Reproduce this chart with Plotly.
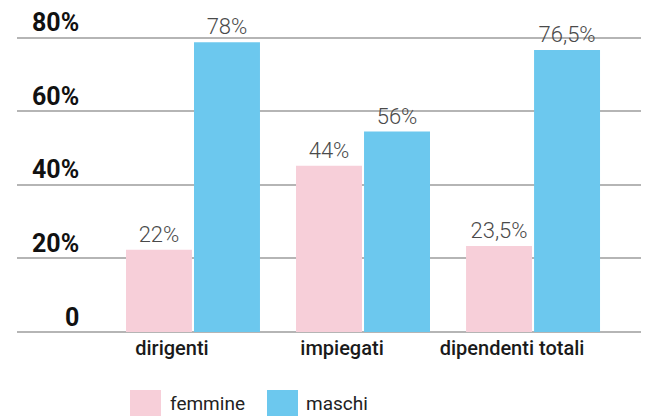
import plotly.graph_objects as go

# data (bar heights as drawn, labels as printed)
categories = ["dirigenti", "impiegati", "dipendenti totali"]
femmine = [22.4, 45.2, 23.4]
maschi = [78.8, 54.5, 76.7]
femmine_labels = ["22%", "44%", "23,5%"]
maschi_labels = ["78%", "56%", "76,5%"]
y_ticks = [0, 20, 40, 60, 80]
y_tick_labels = ["0", "20%", "40%", "60%", "80%"]
series_names = ["femmine", "maschi"]

PINK = "#F7CFD9"
BLUE = "#6CC8EE"
GRID = "#b5b5b5"
FONT = "Roboto"

# the page body adds an 8px offset, so everything is laid out 8px up/left
OFF = 8
W, H = 649, 416
ML, MR, MT, MB = 17 - OFF, OFF, 36 - OFF, 84 + OFF
PW, PH = W - ML - MR, H - MT - MB


def px_x(x):
    # x in window pixels -> paper fraction
    return (x - OFF - ML) / PW


def px_y(y):
    # y in window pixels -> paper fraction
    return (H - MB - (y - OFF)) / PH


fig = go.Figure()
for name, vals, labels, color in zip(series_names, [femmine, maschi],
                                     [femmine_labels, maschi_labels], [PINK, BLUE]):
    fig.add_trace(go.Bar(
        x=categories, y=vals, name=name,
        marker=dict(color=color, line=dict(width=0)),
        text=labels,
        textposition="outside",
        constraintext="none",
        cliponaxis=False,
        textfont=dict(family=FONT, size=22, color="#4a4a4a", weight=300),
        showlegend=False,
    ))

fig.update_layout(
    width=W, height=H,
    margin=dict(l=ML, r=MR, t=MT, b=MB),
    plot_bgcolor="white", paper_bgcolor="white",
    barmode="group", bargap=0.2, bargroupgap=0.03,
    font=dict(family=FONT),
)

fig.update_xaxes(
    range=[-1.035, 2.682],
    showgrid=False, zeroline=False, showline=False, ticks="",
    tickfont=dict(family=FONT, size=20, color="#1a1a1a", weight=500),
    ticklabelshift=-21, ticklabelstandoff=2,
)
fig.update_yaxes(
    range=[0, 80.5], tickvals=y_ticks, showticklabels=False,
    showgrid=True, gridcolor=GRID, gridwidth=1.5,
    zeroline=True, zerolinecolor=GRID, zerolinewidth=2,
    showline=False, ticks="",
)

# y tick labels sit above their gridlines, right aligned
for v, lab in zip(y_ticks, y_tick_labels):
    fig.add_annotation(
        x=px_x(80), xref="paper", y=v, yref="y",
        text=lab, showarrow=False, xanchor="right", yanchor="middle",
        yshift=15, borderpad=0,
        font=dict(family=FONT, size=25, color="#111111", weight="bold"),
    )

# legend drawn by hand to get the big square swatches
legend_items = [(130, 161, 168, series_names[0], PINK), (267, 298, 304, series_names[1], BLUE)]
for x0, x1, tx, name, color in legend_items:
    fig.add_shape(
        type="rect", xref="paper", yref="paper",
        x0=px_x(x0), x1=px_x(x1), y0=px_y(390), y1=px_y(422),
        fillcolor=color, line=dict(width=0),
    )
    fig.add_annotation(
        x=px_x(tx), xref="paper", y=px_y(403), yref="paper",
        text=name, showarrow=False, xanchor="left", yanchor="middle",
        font=dict(family=FONT, size=19, color="#222222"),
    )

fig.write_html("out.html")
